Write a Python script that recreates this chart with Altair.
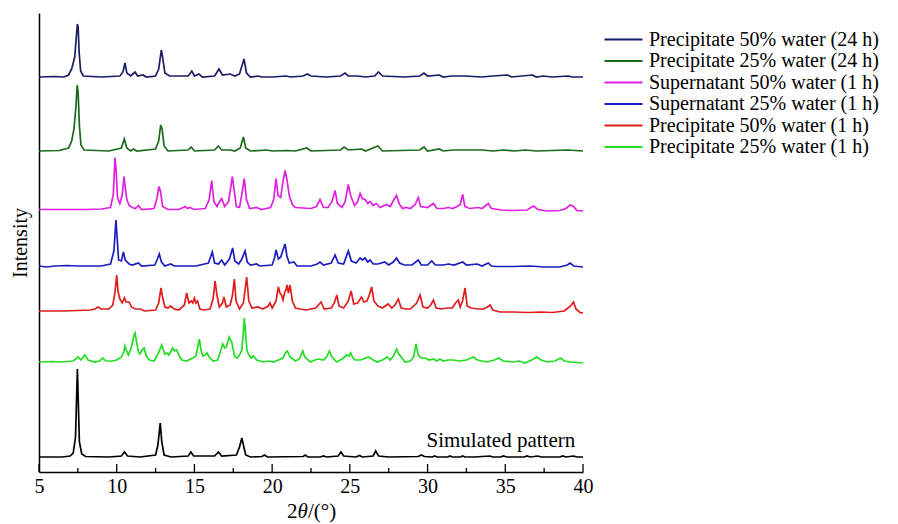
import altair as alt
import pandas as pd

FONT = "Liberation Serif"

SERIES = [
    "Precipitate 50% water (24 h)",
    "Precipitate 25% water (24 h)",
    "Supernatant 50% water (1 h)",
    "Supernatant 25% water (1 h)",
    "Precipitate 50% water (1 h)",
    "Precipitate 25% water (1 h)",
]
COLORS = ["#1c1c66", "#1b6a1b", "#e020e0", "#1c1cc0", "#e01c1c", "#22dd22"]
OFFSETS = [395, 321, 262.5, 206, 161, 110]
SIM_OFFSET = 15
SIM_LABEL = "Simulated pattern"
X_TITLE_PARTS = ["2", "θ", "/(°)"]
X_TITLE_STYLES = ["normal", "italic", "normal"]

# (2theta, relative intensity) pairs
P50_24H = [(5.0,0),(6.0,0.5),(6.6,0),(6.9,2),(7.1,8),(7.3,20),(7.4,40),(7.47,53),(7.52,50),(7.58,25),(7.68,6),(7.85,1),(9.0,0),(10.2,1),(10.4,5),(10.53,14),(10.65,4),(10.9,1),(11.18,5),(11.35,1),(11.7,2),(11.9,0),(12.5,1),(12.7,8),(12.87,27),(12.95,20),(13.1,4),(13.4,1),(14.6,1),(14.83,6),(15.0,1),(15.3,3),(15.5,0),(16.3,1),(16.58,8),(16.8,2),(17.3,3),(17.6,1),(17.9,3),(18.19,18),(18.35,4),(18.6,0),(19.1,1),(19.3,0),(20.0,0),(20.9,1),(21.2,0),(22.0,1),(22.27,3),(22.5,1),(23.5,0),(24.4,1),(24.69,4),(24.9,1),(25.5,1),(26.0,0),(26.6,1),(26.84,5),(27.1,1),(28.5,0),(29.5,1),(29.77,4),(30.0,1),(30.76,2),(31.0,0),(31.55,1),(32.4,1),(33.47,0),(34.2,1),(35.15,2),(35.4,0),(36.74,2),(37.0,0),(37.44,1),(38.0,0),(39.05,1),(39.3,0),(40.0,0)]

P25_24H = [(5.0,0),(6.3,0.5),(6.9,3),(7.1,10),(7.25,22),(7.38,45),(7.46,66),(7.52,58),(7.6,25),(7.7,6),(7.9,1),(9.5,0),(10.3,3),(10.49,12),(10.65,3),(10.9,0),(11.08,2),(11.3,0),(12.5,2),(12.7,10),(12.83,26),(12.92,22),(13.05,5),(13.3,0),(14.6,1),(14.79,4),(15.0,0),(16.3,1),(16.54,5),(16.75,1),(17.3,1),(17.6,0),(17.95,3),(18.15,14),(18.3,3),(18.6,0),(19.65,1),(20.0,0),(20.98,0.5),(21.5,0),(22.23,3),(22.5,0),(24.4,1),(24.63,4),(24.9,1),(25.76,2),(26.0,0),(26.8,5),(27.1,0),(29.5,1),(29.77,4),(30.0,0),(30.76,2),(31.0,0),(31.66,1),(32.4,1),(33.5,1),(34.2,0),(34.9,1),(35.6,0),(36.3,1),(37.0,0),(39.0,1),(40.0,0)]

SUP50_1H = [(5.0,0),(8.0,0),(9.0,0.5),(9.6,2),(9.78,15),(9.89,52),(9.96,40),(10.05,12),(10.2,6),(10.35,14),(10.47,33),(10.55,22),(10.65,10),(10.8,4),(11.0,2),(11.2,1),(11.4,4),(11.6,0),(12.4,1),(12.6,12),(12.72,23),(12.82,18),(12.95,3),(13.3,0),(14.0,0),(14.4,3),(14.55,1),(14.7,2),(15.0,0),(15.7,1),(15.95,10),(16.11,29),(16.25,8),(16.45,3),(16.62,8),(16.75,11),(16.95,3),(17.2,8),(17.44,33),(17.55,20),(17.7,3),(17.9,2),(18.05,15),(18.21,31),(18.35,10),(18.55,1),(19.0,2),(19.3,0),(19.9,2),(20.1,10),(20.25,31),(20.38,14),(20.55,12),(20.7,28),(20.83,39),(20.95,30),(21.1,14),(21.3,5),(21.5,2),(22.5,1),(22.85,3),(23.08,10),(23.3,2),(23.6,2),(23.85,8),(24.05,19),(24.2,6),(24.5,2),(24.7,8),(24.9,25),(25.05,14),(25.3,4),(25.5,8),(25.66,16),(25.8,11),(25.98,10),(26.15,6),(26.3,8),(26.5,4),(26.7,6),(26.95,2),(27.35,5),(27.6,3),(27.8,9),(28.0,14),(28.2,5),(28.4,1),(28.6,2),(28.9,1),(29.2,5),(29.4,12),(29.55,3),(30.0,2),(30.38,6),(30.6,1),(31.0,1),(31.35,2),(31.6,1),(31.9,3),(32.1,5),(32.26,15),(32.4,3),(32.7,1),(33.27,2),(33.5,1),(33.91,6),(34.1,1),(34.8,-0.5),(35.5,-1),(36.4,-0.5),(36.81,3.5),(37.1,0),(37.7,-1.5),(38.5,-1),(38.9,1),(39.17,4.5),(39.4,3),(39.6,-1),(40.0,-1.5)]

SUP25_1H = [(5.0,0),(5.5,-1),(6.0,0),(6.8,0.5),(7.5,0),(9.0,0),(9.6,2),(9.82,15),(9.95,46),(10.02,30),(10.12,6),(10.3,5),(10.43,14),(10.55,6),(10.8,2),(11.0,1),(11.4,3),(11.6,0),(12.45,1),(12.62,7),(12.74,12),(12.88,4),(13.1,0),(13.47,2),(13.7,0),(15.1,0),(15.9,3),(16.15,14),(16.3,3),(16.55,2),(16.75,6),(16.95,1),(17.25,7),(17.46,18),(17.6,5),(17.85,2),(18.05,7),(18.26,15),(18.4,4),(18.6,1),(19.0,2),(19.2,0),(20.0,1),(20.15,8),(20.25,16),(20.4,7),(20.55,9),(20.7,16),(20.83,22),(20.95,10),(21.1,3),(21.4,4),(21.6,0),(22.5,0),(22.9,2),(23.08,4),(23.3,1),(23.8,3),(24.05,11),(24.25,3),(24.6,2),(24.9,15),(25.1,5),(25.4,3),(25.66,8),(25.8,6),(25.98,8),(26.15,4),(26.3,6),(26.5,2),(26.8,2),(27.25,4),(27.5,1),(27.8,4),(28.0,8),(28.2,3),(28.5,1),(29.0,1),(29.4,6),(29.6,1),(30.0,1),(30.27,5),(30.5,1),(31.0,1),(31.35,2),(31.7,1),(32.26,4),(32.5,1),(33.2,2),(33.5,0),(33.91,3),(34.1,0),(34.4,-0.5),(35.5,-0.5),(36.6,0),(37.5,-1),(38.5,-1),(39.0,1),(39.17,3),(39.4,0),(40.0,-1)]

P50_1H = [(5.0,0),(6.5,0),(7.5,0.5),(8.3,1),(8.6,2),(8.8,4),(9.0,2),(9.5,2),(9.75,6),(9.9,20),(10.0,36),(10.08,20),(10.2,12),(10.35,8),(10.5,13),(10.6,9),(10.8,9),(10.95,4),(11.2,2),(11.5,2),(11.8,0),(12.5,1),(12.7,8),(12.85,23),(12.95,14),(13.1,4),(13.3,3),(13.47,5),(13.7,2),(14.0,1),(14.35,6),(14.5,18),(14.65,8),(14.8,10),(14.9,8),(15.0,13),(15.1,8),(15.2,10),(15.35,2),(15.6,1),(16.0,2),(16.2,12),(16.33,30),(16.45,16),(16.6,4),(16.8,8),(16.9,14),(17.05,4),(17.3,6),(17.45,16),(17.57,32),(17.68,10),(17.9,2),(18.15,8),(18.36,34),(18.5,10),(18.7,3),(19.1,4),(19.4,2),(19.75,5),(19.86,8),(20.0,3),(20.25,10),(20.4,24),(20.5,18),(20.6,16),(20.7,11),(20.8,18),(20.9,22),(20.96,26),(21.05,18),(21.15,26),(21.3,10),(21.5,3),(21.8,2),(22.2,1),(22.8,3),(23.15,9),(23.35,2),(23.8,3),(24.0,8),(24.16,16),(24.3,5),(24.6,3),(24.9,10),(25.08,20),(25.25,7),(25.5,8),(25.75,14),(25.9,9),(26.1,10),(26.25,16),(26.4,24),(26.55,10),(26.8,5),(27.1,3),(27.46,7),(27.7,3),(27.9,6),(28.12,12),(28.3,3),(28.6,2),(28.9,2),(29.3,8),(29.52,16),(29.7,4),(30.0,3),(30.2,6),(30.38,11),(30.55,3),(30.9,2),(31.25,3),(31.6,3),(31.8,8),(31.98,11),(32.1,4),(32.25,10),(32.41,23),(32.55,5),(32.8,3),(33.27,2),(33.6,2),(33.85,4),(34.02,6),(34.2,1),(34.66,-1),(35.5,-1),(36.5,-1.5),(37.3,-1),(38.0,-1.5),(38.8,0),(39.2,5),(39.39,9),(39.55,2),(39.8,-1.5),(40.0,-2)]

P25_1H = [(5.0,0),(5.8,0.5),(6.5,0),(7.2,1),(7.52,5),(7.7,2),(7.95,7),(8.15,2),(8.6,0),(8.9,1),(9.1,4),(9.3,1),(9.7,1),(10.0,2),(10.3,5),(10.45,10),(10.53,16),(10.62,12),(10.75,7),(10.95,15),(11.1,26),(11.18,29),(11.28,20),(11.4,10),(11.5,8),(11.62,12),(11.76,14),(11.9,6),(12.1,2),(12.4,1),(12.65,8),(12.9,17),(13.0,12),(13.1,8),(13.25,9),(13.35,7),(13.5,11),(13.6,14),(13.72,11),(13.85,12),(13.95,9),(14.05,5),(14.2,2),(14.5,1),(14.75,3),(14.9,4),(15.1,6),(15.2,14),(15.32,23),(15.42,12),(15.55,6),(15.68,7),(15.8,9),(15.95,5),(16.2,1),(16.5,2),(16.7,12),(16.82,18),(16.95,14),(17.05,15),(17.15,20),(17.23,25),(17.32,22),(17.4,20),(17.5,12),(17.6,5),(17.75,4),(17.9,7),(18.05,12),(18.15,30),(18.21,44),(18.28,30),(18.38,12),(18.47,8),(18.65,4),(18.8,6),(19.0,2),(19.43,0),(19.8,1),(20.1,0),(20.4,2),(20.7,4),(20.85,9),(20.98,11),(21.15,5),(21.5,1),(21.75,3),(21.97,11),(22.1,5),(22.45,0),(22.75,2),(22.98,3),(23.3,2),(23.5,5),(23.68,11),(23.85,5),(24.15,0),(24.5,3),(24.8,7),(24.95,6),(25.05,9),(25.2,4),(25.33,2),(25.7,2),(26.2,5),(26.5,2),(26.76,0),(27.1,2),(27.4,5),(27.6,2),(27.8,6),(28.0,13),(28.15,8),(28.35,4),(28.55,0),(28.9,1),(29.1,5),(29.26,18),(29.38,8),(29.5,5),(29.65,4),(29.85,4),(30.1,2),(30.38,3),(30.6,1),(30.8,3),(31.0,1),(31.3,2),(31.66,2),(32.0,1),(32.5,2),(32.95,5),(33.2,2),(33.8,0),(34.3,2),(34.6,4),(34.85,1),(35.5,0),(35.9,1),(36.26,-1),(36.7,2),(37.02,5),(37.3,2),(37.7,0),(38.2,1),(38.55,4),(38.8,1),(39.2,0),(39.6,-0.5),(40.0,-1)]

SIMULATED = [(5.0,0),(6.5,0),(7.0,1),(7.2,4),(7.35,20),(7.42,60),(7.47,88),(7.52,60),(7.6,15),(7.75,3),(8.0,0.5),(9.5,0),(10.3,1),(10.5,5),(10.7,1),(11.5,0),(12.5,2),(12.65,12),(12.8,34),(12.9,15),(13.05,2),(13.5,0),(14.6,1),(14.77,5),(14.95,1),(16.3,1),(16.54,5),(16.75,1),(17.7,2),(17.9,10),(18.05,19),(18.15,12),(18.3,2),(18.6,0),(19.35,0.5),(19.5,2),(19.7,0),(22.0,0.5),(22.13,2),(22.3,0),(23.1,0),(23.3,1),(23.5,0),(24.25,1),(24.43,5),(24.6,1),(25.4,0),(25.62,1.5),(25.8,0),(26.5,1),(26.66,6),(26.85,1),(27.5,0),(29.4,0.5),(29.6,2),(29.8,0.5),(30.3,0),(30.46,1),(30.6,0),(31.3,0),(31.43,1),(31.6,0),(32.1,0),(32.26,1),(32.4,0),(33.0,0),(34.0,1),(34.2,0),(34.7,0),(34.88,1),(35.1,0),(36.2,0),(36.4,1),(36.6,0),(37.1,1),(37.3,0),(38.5,0),(38.7,1),(38.9,0),(39.4,1),(39.6,0),(40.0,0)]

TRACES = [P50_24H, P25_24H, SUP50_1H, SUP25_1H, P50_1H, P25_1H]

X_LABEL_VALUES = [5, 10, 15, 20, 25, 30, 35, 40]
MAJOR_TICKS = [5, 10, 15, 20, 25, 30, 35, 40]
MINOR_TICKS = [7.5, 12.5, 17.5, 22.5, 27.5, 32.5, 37.5]

rows = []
for name, off, pts in zip(SERIES, OFFSETS, TRACES):
    for i, (x, h) in enumerate(pts):
        rows.append({"series": name, "tt": x, "inten": off + h, "i": i})
df = pd.DataFrame(rows)
sim_df = pd.DataFrame({"tt": [p[0] for p in SIMULATED],
                       "inten": [SIM_OFFSET + p[1] for p in SIMULATED],
                       "i": list(range(len(SIMULATED)))})

W, H = 544, 459
xs = alt.Scale(domain=[5, 40], nice=False, zero=False)
ys = alt.Scale(domain=[0, 459], nice=False, zero=False)

xaxis = alt.Axis(values=X_LABEL_VALUES, ticks=False, grid=False, labelFlush=False,
                 labelFont=FONT, labelFontSize=20, labelColor="black", labelPadding=4,
                 domainColor="black", domainWidth=1.5, title=None)
yaxis = alt.Axis(labels=False, ticks=False, grid=False, domainColor="black", domainWidth=1.5,
                 title="Intensity", titleFont=FONT, titleFontSize=20, titleFontWeight="normal",
                 titleColor="black", titlePadding=9)

lines = alt.Chart(df).mark_line(strokeWidth=1.7, interpolate="linear").encode(
    x=alt.X("tt:Q", scale=xs, axis=xaxis),
    y=alt.Y("inten:Q", scale=ys, axis=yaxis),
    color=alt.Color("series:N", sort=SERIES,
                    scale=alt.Scale(domain=SERIES, range=COLORS),
                    legend=alt.Legend(title=None, orient="none", legendX=574, legendY=16,
                                      symbolType="M-2,0H2", symbolSize=361,
                                      symbolStrokeWidth=2, labelFont=FONT, labelFontSize=20,
                                      labelColor="black", labelOffset=15, rowPadding=0.5,
                                      padding=0, labelLimit=400)),
    order="i:Q",
)

sim = alt.Chart(sim_df).mark_line(strokeWidth=1.7, color="black").encode(
    x=alt.X("tt:Q", scale=xs), y=alt.Y("inten:Q", scale=ys), order="i:Q")

sim_text = alt.Chart(pd.DataFrame({"tt": [39.5], "inten": [SIM_OFFSET + 10], "t": [SIM_LABEL]})).mark_text(
    font=FONT, fontSize=21, align="right", baseline="alphabetic", color="black"
).encode(x=alt.X("tt:Q", scale=xs), y=alt.Y("inten:Q", scale=ys), text="t:N")

# x-axis title with italic theta, drawn as three text pieces under the plot
title_layers = []
title_x = [248, 258.5, 269]
for part, style, px in zip(X_TITLE_PARTS, X_TITLE_STYLES, title_x):
    title_layers.append(
        alt.Chart(pd.DataFrame({"t": [part]})).mark_text(
            font=FONT, fontSize=21, fontStyle=style, align="left", baseline="alphabetic", color="black"
        ).encode(x=alt.value(px), y=alt.value(H + 46), text="t:N")
    )

major = alt.Chart(pd.DataFrame({"v": MAJOR_TICKS})).mark_rule(color="black", strokeWidth=1.3).encode(
    x=alt.X("v:Q", scale=xs), y=alt.value(H), y2=alt.value(H - 8))
minor = alt.Chart(pd.DataFrame({"v": MINOR_TICKS})).mark_rule(color="black", strokeWidth=1.3).encode(
    x=alt.X("v:Q", scale=xs), y=alt.value(H), y2=alt.value(H - 4))

chart = alt.layer(lines, sim, sim_text, major, minor, *title_layers).properties(
    width=W, height=H,
    autosize=alt.AutoSizeParams(type="none"),
    padding={"left": 39, "top": 13, "right": 315, "bottom": 52},
    background="white",
).configure_view(stroke=None)

chart.save("out.html", embed_options={"renderer": "svg", "actions": False})
